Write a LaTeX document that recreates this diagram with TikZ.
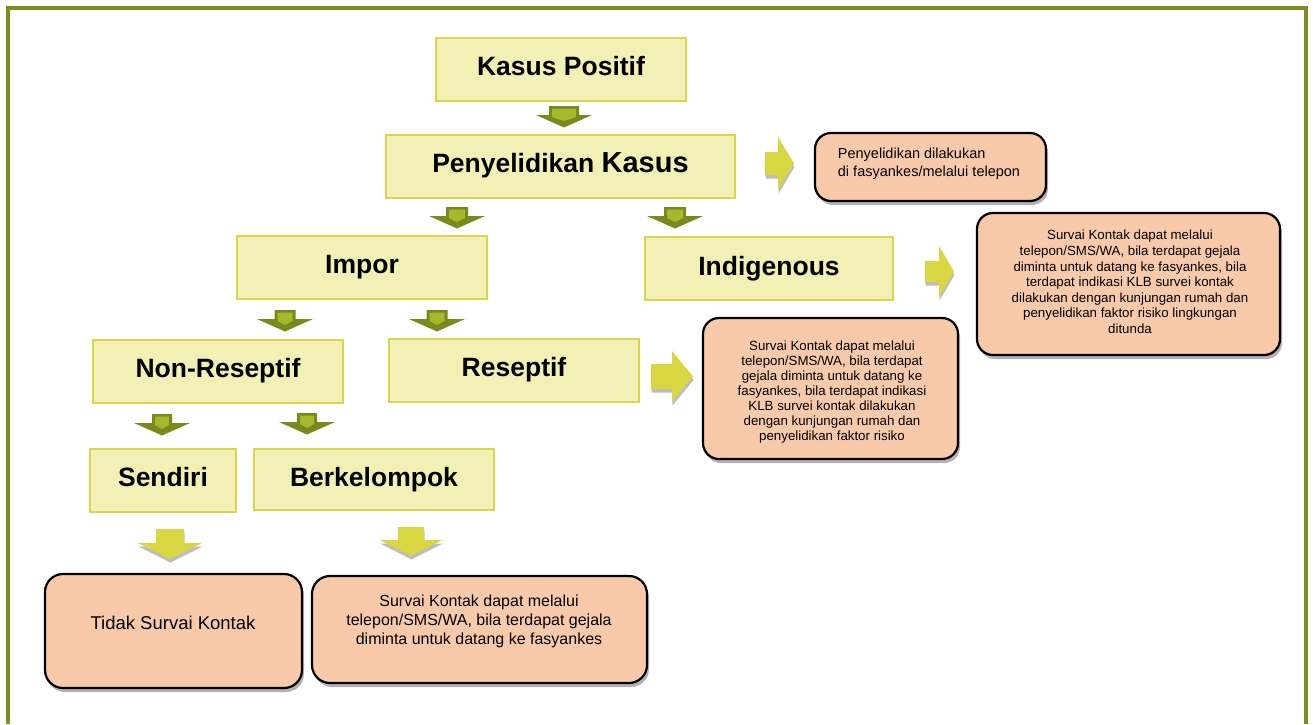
\documentclass[tikz,border=0pt]{standalone}
\usepackage{fontspec}
\setmainfont{Liberation Sans}
\usetikzlibrary{shadows}
\definecolor{framec}{HTML}{7F8B1E}
\definecolor{yfill}{HTML}{F2F0B4}
\definecolor{yline}{HTML}{D9D54C}
\definecolor{peach}{HTML}{F8CAAA}
\definecolor{gdark}{HTML}{7A891D}
\definecolor{glight}{HTML}{A6B82B}
\definecolor{yarrow}{HTML}{D8D641}
\definecolor{ashadow}{HTML}{BDBDBD}
\tikzset{
  ybox/.style={rectangle, draw=yline, fill=yfill, line width=2.5pt, inner sep=0pt,
    text height=11pt, text depth=0pt, font=\fontsize{26.5}{30}\selectfont\bfseries},
  obox/.style={rectangle, rounded corners=16pt, draw=black, fill=peach, line width=2.2pt,
    inner sep=0pt, drop shadow={shadow xshift=2pt, shadow yshift=-4pt, fill=black, opacity=0.3}},
  otext/.style={inner sep=0pt, align=center, text=black}
}
\newcommand\GrArrowDown[3]{% cx, top, shaft half width
  \fill[gdark] (#1-#3,#2) -- (#1+#3,#2) -- (#1+#3,#2+9) -- (#1+28,#2+9) -- (#1,#2+21.5) -- (#1-28,#2+9) -- (#1-#3,#2+9) -- cycle;
  \fill[glight] (#1-#3+3,#2+2.5) -- (#1+#3-3,#2+2.5) -- (#1+#3-3,#2+11) -- (#1,#2+15) -- (#1-#3+3,#2+11) -- cycle;
}
\newcommand\YeArrowDown[6]{% cx, top, shaft half, shaft len, head half, head len
  \fill[ashadow] (#1-#3+0.5,#2+3.5) -- (#1+#3+0.5,#2+3.5) -- (#1+#3+0.5,#2+#4+3.5) -- (#1+#5+0.5,#2+#4+3.5) -- (#1+0.5,#2+#4+#6+3.5) -- (#1-#5+0.5,#2+#4+3.5) -- (#1-#3+0.5,#2+#4+3.5) -- cycle;
  \fill[yarrow] (#1-#3,#2) -- (#1+#3,#2) -- (#1+#3,#2+#4) -- (#1+#5,#2+#4) -- (#1,#2+#4+#6) -- (#1-#5,#2+#4) -- (#1-#3,#2+#4) -- cycle;
}
\newcommand\YeArrowRight[6]{% left, cy, shaft half, shaft len, head half, head len
  \fill[ashadow] (#1+0.5,#2-#3+3.5) -- (#1+#4+0.5,#2-#3+3.5) -- (#1+#4+0.5,#2-#5+3.5) -- (#1+#4+#6+0.5,#2+3.5) -- (#1+#4+0.5,#2+#5+3.5) -- (#1+#4+0.5,#2+#3+3.5) -- (#1+0.5,#2+#3+3.5) -- cycle;
  \fill[yarrow] (#1,#2-#3) -- (#1+#4,#2-#3) -- (#1+#4,#2-#5) -- (#1+#4+#6,#2) -- (#1+#4,#2+#5) -- (#1+#4,#2+#3) -- (#1,#2+#3) -- cycle;
}
\begin{document}
\begin{tikzpicture}[x=1pt,y=-1pt]
\useasboundingbox (0,0) rectangle (1313,724);
\fill[white] (0,0) rectangle (1313,724);
% frame
\draw[framec, line width=4pt] (8,724) -- (8,8) -- (1306,8) -- (1306,724);

% yellow boxes
\node[ybox, minimum width=250pt, minimum height=63pt] (kp) at (561,69.5) {Kasus Positif};
\node[ybox, minimum width=349pt, minimum height=63pt] (pk) at (560.5,166.5)
  {Penyelidikan {\fontsize{29}{30}\selectfont Kasus}};
\node[ybox, minimum width=250pt, minimum height=63pt] (im) at (362,267.5) {Impor};
\node[ybox, minimum width=248pt, minimum height=63pt, text height=13pt] (ind) at (769,268.5) {Indigenous};
\node[ybox, minimum width=250pt, minimum height=63pt] (nr) at (218,371.5) {Non-Reseptif};
\node[ybox, minimum width=250pt, minimum height=63pt] (res) at (514,370.5) {Reseptif};
\node[ybox, minimum width=146pt, minimum height=63pt] (sen) at (163,480.5) {Sendiri};
\node[ybox, minimum width=240pt, minimum height=61pt, text height=13pt] (ber) at (374,479.5) {Berkelompok};

% green arrows
\GrArrowDown{564}{106}{15}
\GrArrowDown{457}{207}{11}
\GrArrowDown{675}{207}{11}
\GrArrowDown{285}{310}{10.5}
\GrArrowDown{437}{310}{10.5}
\GrArrowDown{162}{414}{10}
\GrArrowDown{307}{413}{10}

% yellow arrows
\YeArrowRight{765}{163.5}{11.5}{13}{26.5}{16}
\YeArrowRight{925}{271.5}{10.5}{14}{25.5}{15}
\YeArrowRight{651}{376.5}{12.5}{21}{25.5}{21}
\YeArrowDown{170}{529}{14}{14}{32}{16}
\YeArrowDown{411}{527}{13}{13}{31.5}{16}

% orange boxes
\node[obox, minimum width=231pt, minimum height=68pt] (o1) at (930.5,167) {};
\node[otext, align=left, font=\fontsize{14.5}{18}\selectfont] (o1t) at (929,164)
  {Penyelidikan dilakukan\\di fasyankes/melalui telepon};

\node[obox, minimum width=303pt, minimum height=142pt] (o2) at (1128.5,284) {};
\node[otext, font=\fontsize{13.3}{15.6}\selectfont] (o2t) at (1130,282)
  {Survai Kontak dapat melalui\\telepon/SMS/WA, bila terdapat gejala\\diminta untuk datang ke fasyankes, bila\\terdapat indikasi KLB survei kontak\\dilakukan dengan kunjungan rumah dan\\penyelidikan faktor risiko lingkungan\\ditunda};

\node[obox, minimum width=255pt, minimum height=141pt] (o3) at (830.5,388.5) {};
\node[otext, font=\fontsize{13.3}{15}\selectfont] (o3t) at (832,392)
  {Survai Kontak dapat melalui\\telepon/SMS/WA, bila terdapat\\gejala diminta untuk datang ke\\fasyankes, bila terdapat indikasi\\KLB survei kontak dilakukan\\dengan kunjungan rumah dan\\penyelidikan faktor risiko};

\node[obox, rounded corners=18pt, minimum width=257pt, minimum height=114pt] (o4) at (173.5,631) {};
\node[otext, font=\fontsize{18.5}{22}\selectfont] (o4t) at (173,623) {Tidak Survai Kontak};

\node[obox, rounded corners=18pt, minimum width=335pt, minimum height=107pt] (o5) at (479.5,629.5) {};
\node[otext, font=\fontsize{16}{19}\selectfont] (o5t) at (479,621)
  {Survai Kontak dapat melalui\\telepon/SMS/WA, bila terdapat gejala\\diminta untuk datang ke fasyankes};
\end{tikzpicture}
\end{document}
